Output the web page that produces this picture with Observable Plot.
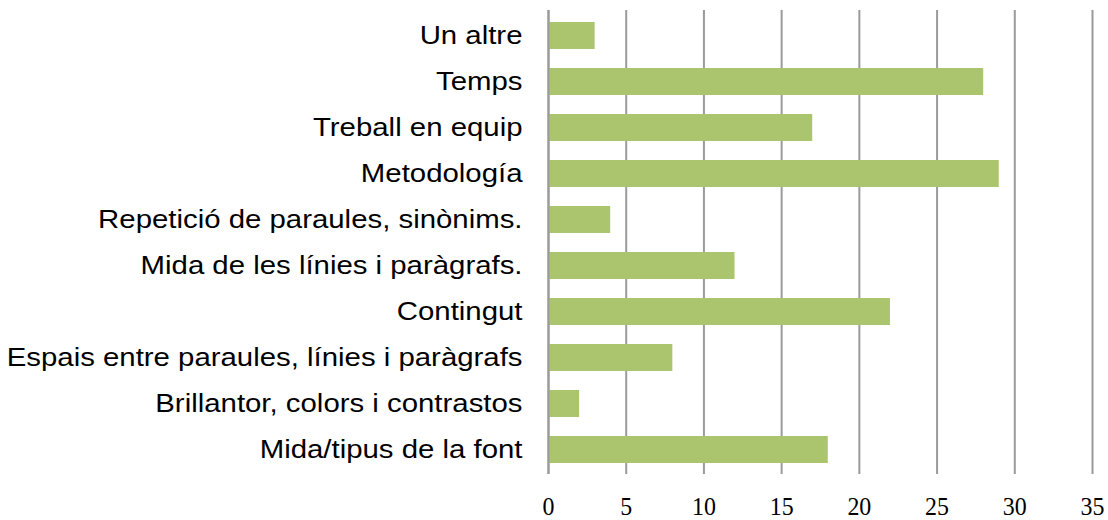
<!DOCTYPE html>
<html>
<head>
<meta charset="utf-8">
<script src="https://cdn.jsdelivr.net/npm/d3@7"></script>
<script src="https://cdn.jsdelivr.net/npm/@observablehq/plot@0.6"></script>
<style>
  html, body { margin: 0; padding: 0; background: #fff; }
</style>
</head>
<body>
<div id="chart"></div>
<script>
const categories = [
  "Un altre",
  "Temps",
  "Treball en equip",
  "Metodología",
  "Repetició de paraules, sinònims.",
  "Mida de les línies i paràgrafs.",
  "Contingut",
  "Espais entre paraules, línies i paràgrafs",
  "Brillantor, colors i contrastos",
  "Mida/tipus de la font"
];
const values = [3, 28, 17, 29, 4, 12, 22, 8, 2, 18];
const xTicks = [0, 5, 10, 15, 20, 25, 30, 35];

const data = categories.map((c, i) => ({category: c, value: values[i]}));

const chart = Plot.plot({
  width: 1108,
  height: 520,
  marginLeft: 548,
  marginRight: 16,
  marginTop: 10,
  marginBottom: 46,
  style: {background: "#fff", overflow: "visible"},
  x: {domain: [0, 35], ticks: xTicks, label: null},
  y: {domain: categories, label: null, paddingInner: 0.42, paddingOuter: 0.21},
  marks: [
    Plot.ruleX(xTicks, {stroke: "#9a9a9a", strokeWidth: 2}),
    Plot.barX(data, {x: "value", y: "category", fill: "#abc56e"}),
    Plot.ruleX([0], {stroke: "#9a9a9a", strokeWidth: 2}),
    Plot.axisX({ticks: xTicks, tickSize: 0, tickPadding: 22.5, fontSize: 26, fontFamily: "'Liberation Serif', serif", fill: "#000", label: null}),
    Plot.axisY({tickSize: 0, tickPadding: 26, fontSize: 25, fontFamily: "'Liberation Sans', Arial, sans-serif", fill: "#000", label: null}),
    Plot.axisX({ticks: [], tickSize: 0, line: true, stroke: "#9a9a9a", strokeWidth: 2, label: null})
  ]
});
// the reference's category labels are horizontally stretched
d3.select(chart).selectAll("g[aria-label='y-axis tick label'] text").each(function() {
  const t = this.getAttribute("transform") || "";
  this.setAttribute("transform", t + " scale(1.175,1)");
});
// the reference's tick numbers are slightly narrow
d3.select(chart).selectAll("g[aria-label='x-axis tick label'] text").each(function() {
  const t = this.getAttribute("transform") || "";
  this.setAttribute("transform", t + " scale(0.92,1)");
});
document.getElementById("chart").appendChild(chart);
</script>
</body>
</html>
